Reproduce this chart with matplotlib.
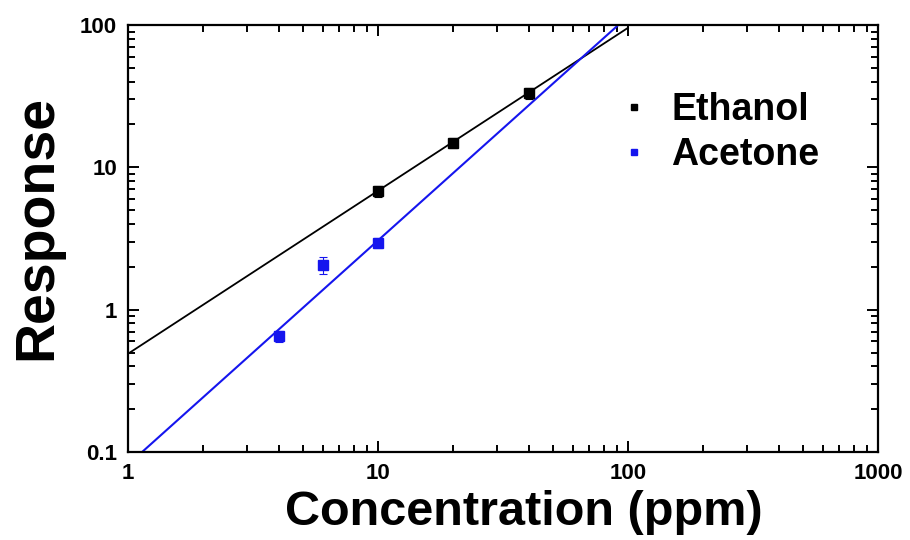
import numpy as np
import matplotlib
matplotlib.use("Agg")
import matplotlib.pyplot as plt
from matplotlib.lines import Line2D
from matplotlib.ticker import LogLocator, NullFormatter, FixedLocator, FixedFormatter

plt.rcParams['font.family'] = ['Liberation Sans', 'DejaVu Sans']

# Measured responses (mean and error) for each gas
ethanol_conc = [10, 20, 40]
ethanol_resp = [6.8, 14.8, 33.3]
ethanol_err = [0.6, 1.2, 3.0]

acetone_conc = [4, 6, 10]
acetone_resp = [0.65, 2.06, 2.94]
acetone_err = [0.06, 0.27, 0.25]

# Power-law fits: response = prefactor * concentration ** exponent
ethanol_fit = {"prefactor": 0.49, "exponent": 1.145, "range": (1, 100)}
acetone_fit = {"prefactor": 0.0815, "exponent": 1.575, "range": (1, 100)}

x_ticks = [1, 10, 100, 1000]
x_tick_labels = ["1", "10", "100", "1000"]
y_ticks = [0.1, 1, 10, 100]
y_tick_labels = ["0.1", "1", "10", "100"]

BLUE = "#1515ee"

fig = plt.figure(figsize=(9.1, 5.4), dpi=100)
ax = fig.add_axes([128 / 910, 88 / 540, 750 / 910, 427 / 540])
ax.set_xscale("log")
ax.set_yscale("log")
ax.set_xlim(1, 1000)
ax.set_ylim(0.1, 100)


def power_line(fit):
    lo, hi = fit["range"]
    xs = np.logspace(np.log10(lo), np.log10(hi), 50)
    return xs, fit["prefactor"] * xs ** fit["exponent"]


xs, ys = power_line(ethanol_fit)
ax.plot(xs, ys, color="black", lw=1.3, zorder=2)
xs, ys = power_line(acetone_fit)
ax.plot(xs, ys, color=BLUE, lw=1.5, zorder=2)

ax.errorbar(ethanol_conc, ethanol_resp, yerr=ethanol_err, fmt="s", color="black",
            ms=7, capsize=3, elinewidth=0.8, capthick=0.8, zorder=3)
ax.errorbar(acetone_conc, acetone_resp, yerr=acetone_err, fmt="s", color=BLUE,
            ms=7, capsize=3, elinewidth=0.8, capthick=0.8, zorder=3)

# Axis styling: ticks inside on all four sides
for s in ax.spines.values():
    s.set_linewidth(1.6)
ax.xaxis.set_major_locator(FixedLocator(x_ticks))
ax.xaxis.set_major_formatter(FixedFormatter(x_tick_labels))
ax.yaxis.set_major_locator(FixedLocator(y_ticks))
ax.yaxis.set_major_formatter(FixedFormatter(y_tick_labels))
for axis in (ax.xaxis, ax.yaxis):
    axis.set_minor_locator(LogLocator(base=10, subs=np.arange(2, 10), numticks=20))
    axis.set_minor_formatter(NullFormatter())
ax.tick_params(which="both", direction="in", top=True, right=True, width=1.4)
ax.tick_params(which="major", length=8, labelsize=16, pad=8)
ax.tick_params(which="minor", length=5)
for lab in ax.get_xticklabels() + ax.get_yticklabels():
    lab.set_fontweight("bold")

ax.set_xlabel("Concentration (ppm)", fontsize=35, fontweight="bold")
ax.xaxis.set_label_coords(0.528, -0.089)
ax.set_ylabel("Response", fontsize=40, fontweight="bold")
ax.yaxis.set_label_coords(-0.086, 0.525)

handles = [
    Line2D([], [], ls="none", marker="s", color="black", ms=5),
    Line2D([], [], ls="none", marker="s", color=BLUE, ms=5),
]
ax.legend(handles, ["Ethanol", "Acetone"], loc="upper left",
          bbox_to_anchor=(0.649, 0.843), frameon=False, handlelength=1.0,
          handletextpad=0.5, labelspacing=0.23, borderpad=0, borderaxespad=0,
          prop={"size": 27, "weight": "bold"})

fig.savefig("out.png", dpi=100)
